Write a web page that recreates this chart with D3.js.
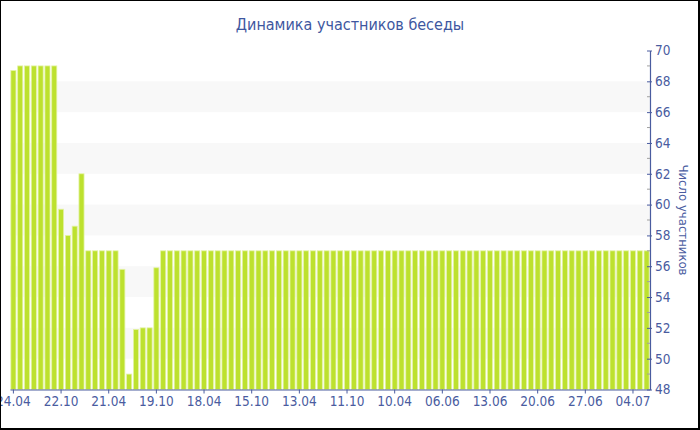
<!DOCTYPE html>
<html><head><meta charset="utf-8">
<script src="https://cdn.jsdelivr.net/npm/d3@7"></script>
<style>
html,body{margin:0;padding:0;background:#fff;}
svg{display:block;}
text{font-family:"DejaVu Sans Condensed","DejaVu Sans",sans-serif;}
</style></head>
<body><svg id="c" width="700" height="430"></svg>
<script>
const title = "Динамика участников беседы";
const yTitle = "Число участников";
const tickLabels = ["24.04","22.10","21.04","19.10","18.04","15.10","13.04","11.10","10.04","06.06","13.06","20.06","27.06","04.07"];
const members = [
 68.7,69,69,69,69,69,69,59.7,58.0,58.6,
 62,57,57,57,57,57,55.8,49,51.9,52,
 52,55.9,57,57,57,57,57,57,57,57,
 57,57,57,57,57,57,57,57,57,57,
 57,57,57,57,57,57,57,57,57,57,
 57,57,57,57,57,57,57,57,57,57,
 57,57,57,57,57,57,57,57,57,57,
 57,57,57,57,57,57,57,57,57,57,
 57,57,57,57,57,57,57,57,57,57,
 57,57,57,57
];
const yTicks = [48,50,52,54,56,58,60,62,64,66,68,70];
const bandStarts = [50,54,58,62,66];

const svg = d3.select("#c");
const L = 10, R = 650, T = 50.5, B = 389.5;
const blue = "#4a5c9f";

const x = d3.scaleBand().domain(d3.range(members.length)).range([L, R]).paddingInner(0.25).paddingOuter(0.125);
const y = d3.scaleLinear().domain([48, 70]).range([B, T]);

// alternating bands
svg.append("g").selectAll("rect").data(bandStarts).join("rect")
  .attr("x", L).attr("width", R - L)
  .attr("y", d => y(d + 2)).attr("height", d => y(d) - y(d + 2))
  .attr("fill", "#f8f8f8");

// bars
svg.append("g").selectAll("rect").data(members).join("rect")
  .attr("x", (d, i) => x(i)).attr("width", x.bandwidth())
  .attr("y", d => y(d)).attr("height", d => B - y(d))
  .attr("fill", "#bde12e")
  .attr("stroke", "#e4f3a6").attr("stroke-width", 0.8);

// x axis
const xAxis = d3.axisBottom(x)
  .tickValues(d3.range(0, members.length, 7))
  .tickFormat(i => tickLabels[i / 7])
  .tickSize(4).tickSizeOuter(0).tickPadding(3);
const gx = svg.append("g").attr("transform", `translate(0,${B})`).call(xAxis);
gx.select(".domain").attr("stroke", blue).attr("stroke-width", 1.2);
gx.selectAll(".tick line").attr("stroke", blue);
gx.selectAll(".tick text").attr("fill", blue).attr("font-size", 13.5)
  .style("font-family", '"DejaVu Sans Condensed","DejaVu Sans",sans-serif');

// y axis (right)
const yAxis = d3.axisRight(y).tickValues(yTicks).tickSize(2).tickSizeOuter(0).tickPadding(3);
const gy = svg.append("g").attr("transform", `translate(${R},0)`).call(yAxis);
gy.select(".domain").attr("stroke", blue).attr("stroke-width", 1.2);
gy.selectAll(".tick line").attr("stroke", blue).attr("x1", -3).attr("x2", 2);
gy.selectAll(".tick text").attr("fill", blue).attr("font-size", 13.5)
  .style("font-family", '"DejaVu Sans Condensed","DejaVu Sans",sans-serif');
// minor ticks
svg.append("g").selectAll("line").data(yTicks.slice(0, -1).map(v => v + 1)).join("line")
  .attr("x1", R - 3).attr("x2", R).attr("y1", d => y(d)).attr("y2", d => y(d))
  .attr("stroke", "#a0a0a0");

// y axis title
svg.append("text")
  .attr("transform", `translate(${679},${(T + B) / 2}) rotate(90)`)
  .attr("text-anchor", "middle").attr("fill", blue).attr("font-size", 13)
  .text(yTitle);

// chart title
svg.append("text").attr("x", 350).attr("y", 30).attr("text-anchor", "middle")
  .attr("fill", "#3e57a0").attr("font-size", 16).text(title);

// frame
svg.append("rect").attr("x", 0).attr("y", 0).attr("width", 700).attr("height", 1).attr("fill", "#000");
svg.append("rect").attr("x", 0).attr("y", 0).attr("width", 1).attr("height", 430).attr("fill", "#000");
svg.append("rect").attr("x", 698).attr("y", 0).attr("width", 2).attr("height", 430).attr("fill", "#000");
svg.append("rect").attr("x", 0).attr("y", 428).attr("width", 700).attr("height", 2).attr("fill", "#000");
</script></body></html>
